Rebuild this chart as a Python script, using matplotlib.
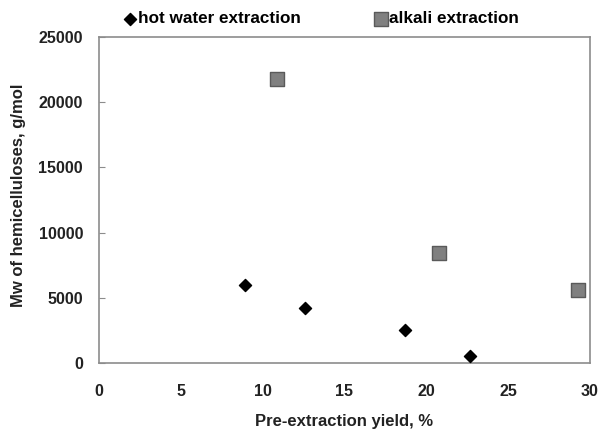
import matplotlib
matplotlib.use("Agg")
import matplotlib.pyplot as plt

plt.rcParams['font.family'] = ['Liberation Sans', 'DejaVu Sans']

hot_x = [8.9, 12.6, 18.7, 22.7]
hot_y = [6000, 4200, 2500, 500]
alk_x = [10.9, 20.8, 29.3]
alk_y = [21800, 8450, 5600]
x_ticks = [0, 5, 10, 15, 20, 25, 30]
y_ticks = [0, 5000, 10000, 15000, 20000, 25000]

fig = plt.figure(figsize=(6.05, 4.29), dpi=100)
ax = fig.add_axes([0.1636, 0.1538, 0.8114, 0.76])

ax.scatter(hot_x, hot_y, marker='D', s=38, color='black', zorder=3,
           label='hot water extraction')
ax.scatter(alk_x, alk_y, marker='s', s=110, facecolor='#808080',
           edgecolor='#5a5a5a', linewidth=1, zorder=3, label='alkali extraction')

ax.set_xlim(0, 30)
ax.set_ylim(0, 25000)
ax.set_xticks(x_ticks)
ax.set_yticks(y_ticks)
for s in ax.spines.values():
    s.set_color('#8c8c8c')
    s.set_linewidth(1.2)
ax.tick_params(axis='y', direction='in', length=4, color='#8c8c8c',
               labelsize=11.5, pad=11.5)
ax.tick_params(axis='x', length=0, labelsize=11.5, pad=15)
for lab in ax.get_xticklabels() + ax.get_yticklabels():
    lab.set_fontweight('bold')
    lab.set_color('#222222')

ax.set_xlabel('Pre-extraction yield, %', fontsize=12, fontweight='bold',
              labelpad=11, color='#222222')
ax.set_ylabel('Mw of hemicelluloses, g/mol', fontsize=12, fontweight='bold',
              color='#222222')
ax.yaxis.set_label_coords(-0.148, 0.515)

leg = ax.legend(loc='lower left', bbox_to_anchor=(0.037, 1.015), ncol=2,
                frameon=False, handletextpad=0.1,
                columnspacing=4.25, borderaxespad=0.15, handlelength=0.8,
                borderpad=0.2, prop={'weight': 'bold', 'size': 12.3})

fig.savefig('out.png', dpi=100)
